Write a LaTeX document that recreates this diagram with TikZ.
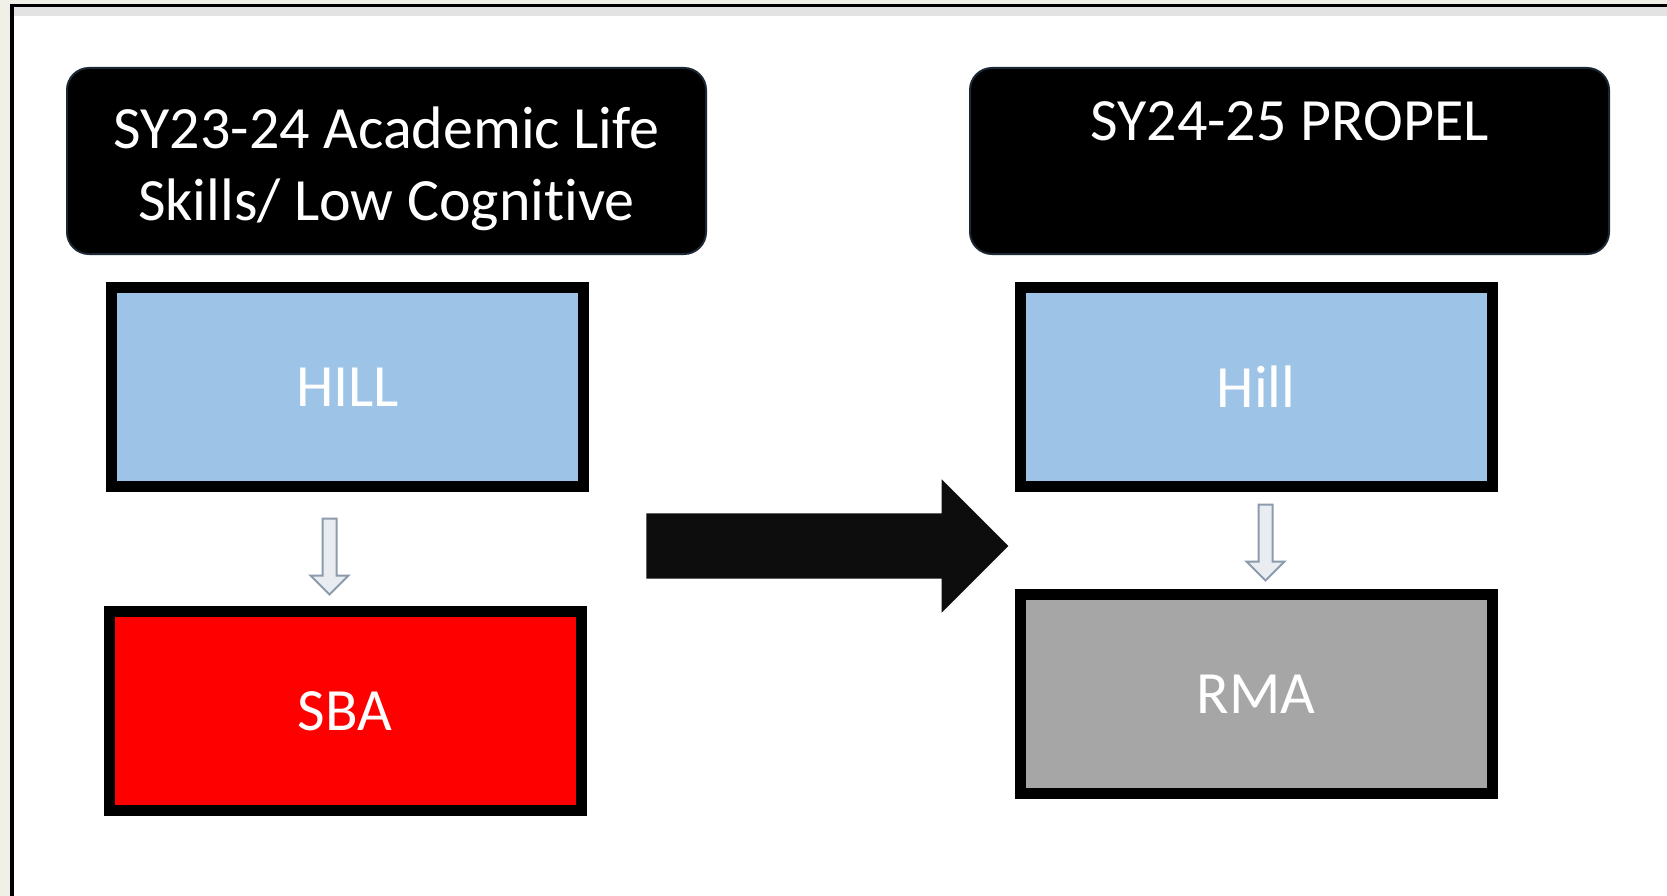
\documentclass[tikz,border=0pt]{standalone}
\usepackage{fontspec}
\setmainfont{Carlito}[Ligatures=NoCommon]
\usetikzlibrary{shapes.arrows}

\definecolor{hillblue}{HTML}{9DC3E6}
\definecolor{sbared}{HTML}{FF0000}
\definecolor{rmagray}{HTML}{A6A6A6}
\definecolor{pagebeige}{HTML}{F0EFE8}
\definecolor{stripgray}{HTML}{E3E3E3}
\definecolor{arrowfill}{HTML}{E9EDF2}
\definecolor{arrowline}{HTML}{8C9BAC}
\definecolor{headline}{HTML}{1C2735}

\begin{document}
\begin{tikzpicture}[x=1pt,y=-1pt,
    header/.style={rounded corners=22pt, fill=black, draw=headline, line width=2pt,
        minimum width=639pt, minimum height=186pt, inner sep=0pt,
        text=white, align=center, font=\fontsize{60}{73}\selectfont},
    stepbox/.style={draw=black, line width=11pt, minimum width=472pt, minimum height=199pt,
        inner sep=0pt, text=white, font=\fontsize{60}{72}\selectfont},
    downarrow/.style={single arrow, rotate=-90, fill=arrowfill, draw=arrowline, line width=2pt,
        minimum height=76pt, minimum width=36pt, single arrow head extend=12pt, inner sep=6pt},
    bigarrow/.style={single arrow, fill=black!95, minimum height=362pt, minimum width=133pt,
        single arrow head extend=34pt, inner sep=32.5pt}]
    \useasboundingbox (0,0) rectangle (1667,896);

    % page frame
    \fill[pagebeige] (0,0) rectangle (1667,896);
    \fill[white] (11,6) rectangle (1667,896);
    \fill[stripgray] (11,6) rectangle (1667,16);
    \draw[line width=3pt] (9.5,5.5) -- (1667,5.5);
    \draw[line width=4pt] (11.5,4) -- (11.5,896);

    % left column
    \node[header, text height=130pt, text depth=10pt] (hdL) at (386.5,161) {SY23-24 Academic Life\\Skills/ Low Cognitive};
    \node[stepbox, fill=hillblue] (hillL) at (347.5,387) {HILL};
    \node[stepbox, fill=sbared] (sba) at (345,711) {SBA};
    \node[downarrow] (downL) at (329.5,553) {};

    % right column
    \node[header, text height=40pt, text depth=80pt] (hdR) at (1289.5,161) {SY24-25 PROPEL};
    \node[stepbox, fill=hillblue] (hillR) at (1256,387) {Hill};
    \node[stepbox, fill=rmagray] (rma) at (1256,694) {RMA};
    \node[downarrow] (downR) at (1265.5,539) {};

    % transition
    \node[bigarrow] (move) at (811,546) {};
\end{tikzpicture}
\end{document}
